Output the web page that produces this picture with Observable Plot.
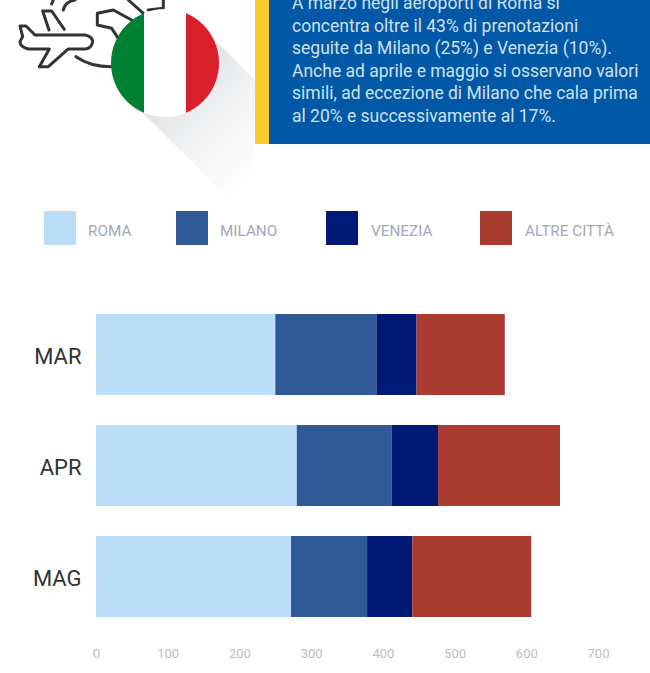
<!DOCTYPE html>
<html><head><meta charset="utf-8">
<script src="https://cdn.jsdelivr.net/npm/d3@7"></script>
<script src="https://cdn.jsdelivr.net/npm/@observablehq/plot@0.6"></script>
<style>
html,body{margin:0;padding:0;background:#fff;width:650px;height:673px;overflow:hidden;font-family:Roboto,sans-serif}
#page{position:relative;width:650px;height:673px;overflow:hidden}
#deco{position:absolute;left:0;top:0}
#txt{position:absolute;left:292px;top:-8px;width:358px;font-size:17.5px;line-height:22.5px;color:#cfe0f0;white-space:nowrap}
.sw{position:absolute;top:211px;width:32px;height:34px}
.lb{position:absolute;top:221px;font-size:15.3px;line-height:20px;color:#a3a8b8;white-space:nowrap}
#chart{position:absolute;left:0;top:290px}
#chart svg{display:block}
</style></head><body>
<div id="page">
<svg id="deco" width="650" height="200" viewBox="0 0 650 200">
<defs>
<linearGradient id="sh" gradientUnits="userSpaceOnUse" x1="178" y1="62" x2="275" y2="159">
<stop offset="0" stop-color="#dcdee0"/><stop offset="0.5" stop-color="#f2f3f4"/><stop offset="1" stop-color="#ffffff"/>
</linearGradient>
<clipPath id="cc"><circle cx="165" cy="63" r="54"/></clipPath>
</defs>
<g transform="scale(0.3333)" fill="none" stroke="#333" stroke-width="9" stroke-linejoin="round" stroke-linecap="round">
<path d="M60,78 L78,78 L105,105 L255,105 Q278,110 278,125 Q275,145 255,147 L205,147 L145,200 L118,200 L148,147 L85,147 Q60,140 60,125 L68,110 Z"/>
<path d="M128,33 L155,33 L193,88 M128,33 L147,90"/>
<path d="M228,170 Q270,200 335,200"/>
<path d="M355,115 L335,85 L292,75 L292,40 L340,30 L395,60"/>
<path d="M190,30 Q195,5 225,0 M155,12 L160,0 M385,0 L430,40 M445,30 L490,25 L490,0"/>
</g>
<polygon points="213,38 300,125 300,270 143,113" fill="url(#sh)"/>
<g clip-path="url(#cc)">
<rect x="111" y="9" width="33" height="108" fill="#008033"/>
<rect x="144" y="9" width="42" height="108" fill="#ffffff"/>
<rect x="186" y="9" width="33" height="108" fill="#d81f2a"/>
</g>
<rect x="255" y="0" width="14" height="144" fill="#ffcd2f"/>
<rect x="269" y="0" width="381" height="144" fill="#0058a6"/>
<rect x="255" y="144" width="395" height="56" fill="#fff"/>
</svg>
<div id="txt"></div>
<div id="chart"></div>
</div>
<script>
const months = ["MAR", "APR", "MAG"];
const cities = ["ROMA", "MILANO", "VENEZIA", "ALTRE CITTÀ"];
const colors = ["#bbdef6", "#305998", "#001a75", "#a93b30"];
const roma = [250, 280, 272];
const milano = [141, 132, 106];
const venezia = [56, 65, 63];
const altre = [123, 170, 166];
const xTicks = [0, 100, 200, 300, 400, 500, 600, 700];
const legendSwatchX = [44, 176, 326, 480];
const legendLabelX = [88, 220, 371, 525];
const paragraph = [
  "A marzo negli aeroporti di Roma si",
  "concentra oltre il 43% di prenotazioni",
  "seguite da Milano (25%) e Venezia (10%).",
  "Anche ad aprile e maggio si osservano valori",
  "simili, ad eccezione di Milano che cala prima",
  "al 20% e successivamente al 17%."
];

document.getElementById("txt").innerHTML = paragraph.map(l => `<div>${l}</div>`).join("");
const page = document.getElementById("page");
cities.forEach((c, i) => {
  const s = document.createElement("div");
  s.className = "sw"; s.style.left = legendSwatchX[i] + "px"; s.style.background = colors[i];
  page.appendChild(s);
  const t = document.createElement("div");
  t.className = "lb"; t.style.left = legendLabelX[i] + "px"; t.textContent = c;
  page.appendChild(t);
});

const series = [roma, milano, venezia, altre];
const rows = months.flatMap((m, i) => cities.map((c, j) => ({month: m, city: c, value: series[j][i]})));

const chart = Plot.plot({
  width: 650,
  height: 383,
  marginLeft: 96,
  marginRight: 52,
  marginTop: 9,
  marginBottom: 41,
  style: {background: "transparent", fontFamily: "Roboto, sans-serif", overflow: "visible"},
  x: {domain: [0, 700], ticks: xTicks},
  y: {domain: months, paddingInner: 30 / 111, paddingOuter: 15 / 111, align: 0.5},
  color: {domain: cities, range: colors},
  marks: [
    Plot.barX(rows, Plot.stackX({x: "value", y: "month", fill: "city", order: cities, title: d => `${d.month} ${d.city}: ${d.value}`})),
    Plot.axisX({ticks: xTicks, tickSize: 0, tickPadding: 16, label: null, color: "#bdbdbd", fontSize: 13, anchor: "bottom"}),
    Plot.axisY({tickSize: 0, tickPadding: 15, label: null, color: "#333333", fontSize: 22, dy: 2, anchor: "left"})
  ]
});
document.getElementById("chart").appendChild(chart);
</script>
</body></html>
